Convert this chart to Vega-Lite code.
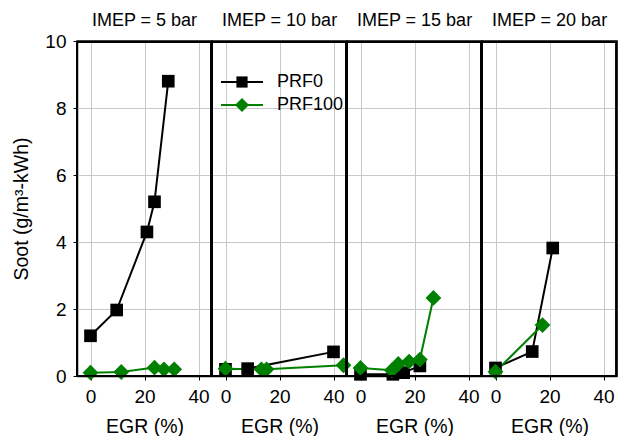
{
  "$schema": "https://vega.github.io/schema/vega-lite/v6.json",
  "padding": {"left": 11, "top": 12, "right": 2, "bottom": 0},
  "data": {"values": [
    {"imep": "IMEP = 5 bar", "series": "PRF0", "egr": 0, "soot": 1.2},
    {"imep": "IMEP = 5 bar", "series": "PRF0", "egr": 9.7, "soot": 1.97},
    {"imep": "IMEP = 5 bar", "series": "PRF0", "egr": 20.9, "soot": 4.3},
    {"imep": "IMEP = 5 bar", "series": "PRF0", "egr": 23.7, "soot": 5.2},
    {"imep": "IMEP = 5 bar", "series": "PRF0", "egr": 28.8, "soot": 8.8},
    {"imep": "IMEP = 5 bar", "series": "PRF100", "egr": 0, "soot": 0.1},
    {"imep": "IMEP = 5 bar", "series": "PRF100", "egr": 11.4, "soot": 0.12},
    {"imep": "IMEP = 5 bar", "series": "PRF100", "egr": 23.7, "soot": 0.25},
    {"imep": "IMEP = 5 bar", "series": "PRF100", "egr": 27.2, "soot": 0.2},
    {"imep": "IMEP = 5 bar", "series": "PRF100", "egr": 31, "soot": 0.2},
    {"imep": "IMEP = 10 bar", "series": "PRF0", "egr": 0, "soot": 0.2},
    {"imep": "IMEP = 10 bar", "series": "PRF0", "egr": 8.2, "soot": 0.22},
    {"imep": "IMEP = 10 bar", "series": "PRF0", "egr": 40, "soot": 0.72},
    {"imep": "IMEP = 10 bar", "series": "PRF100", "egr": 0, "soot": 0.22},
    {"imep": "IMEP = 10 bar", "series": "PRF100", "egr": 13.3, "soot": 0.2},
    {"imep": "IMEP = 10 bar", "series": "PRF100", "egr": 15.2, "soot": 0.2},
    {"imep": "IMEP = 10 bar", "series": "PRF100", "egr": 43.7, "soot": 0.32},
    {"imep": "IMEP = 15 bar", "series": "PRF0", "egr": 0, "soot": 0.05},
    {"imep": "IMEP = 15 bar", "series": "PRF0", "egr": 12, "soot": 0.05},
    {"imep": "IMEP = 15 bar", "series": "PRF0", "egr": 16, "soot": 0.1},
    {"imep": "IMEP = 15 bar", "series": "PRF0", "egr": 22, "soot": 0.3},
    {"imep": "IMEP = 15 bar", "series": "PRF100", "egr": 0, "soot": 0.24},
    {"imep": "IMEP = 15 bar", "series": "PRF100", "egr": 11.6, "soot": 0.17},
    {"imep": "IMEP = 15 bar", "series": "PRF100", "egr": 14, "soot": 0.36},
    {"imep": "IMEP = 15 bar", "series": "PRF100", "egr": 18, "soot": 0.43},
    {"imep": "IMEP = 15 bar", "series": "PRF100", "egr": 22, "soot": 0.49},
    {"imep": "IMEP = 15 bar", "series": "PRF100", "egr": 27, "soot": 2.33},
    {"imep": "IMEP = 20 bar", "series": "PRF0", "egr": 0, "soot": 0.24},
    {"imep": "IMEP = 20 bar", "series": "PRF0", "egr": 13.6, "soot": 0.73},
    {"imep": "IMEP = 20 bar", "series": "PRF0", "egr": 21.2, "soot": 3.82},
    {"imep": "IMEP = 20 bar", "series": "PRF100", "egr": 0, "soot": 0.13},
    {"imep": "IMEP = 20 bar", "series": "PRF100", "egr": 17.4, "soot": 1.52}
  ]},
  "facet": {
    "column": {
      "field": "imep", "type": "nominal", "sort": ["IMEP = 5 bar", "IMEP = 10 bar", "IMEP = 15 bar", "IMEP = 20 bar"],
      "header": {"labelFontSize": 18, "labelFont": "Liberation Sans", "labelColor": "black", "labelPadding": 11, "title": null}
    }
  },
  "spacing": 0,
  "bounds": "flush",
  "spec": {
    "width": 135,
    "height": 335,
    "layer": [
      {
        "mark": {"type": "line", "strokeWidth": 2},
        "encoding": {
          "x": {"field": "egr", "type": "quantitative", "scale": {"domain": [-5, 45], "nice": false, "zero": false}, "title": "EGR (%)",
            "axis": {"values": [0, 10, 20, 30, 40], "labelExpr": "datum.value % 20 == 0 ? datum.label : ''",
              "gridOpacity": {"condition": {"test": "datum.value % 20 == 0", "value": 1}, "value": 0},
              "tickSize": {"condition": {"test": "datum.value % 20 == 0", "value": 4}, "value": 2}}},
          "y": {"field": "soot", "type": "quantitative", "scale": {"domain": [0, 10], "nice": false}, "title": "Soot (g/m³-kWh)",
            "axis": {"values": [0, 1, 2, 3, 4, 5, 6, 7, 8, 9, 10], "labelExpr": "datum.value % 2 == 0 ? datum.label : ''",
              "gridOpacity": {"condition": {"test": "datum.value % 2 == 0 && datum.value > 0 && datum.value < 10", "value": 1}, "value": 0},
              "tickSize": {"condition": {"test": "datum.value % 2 == 0", "value": 4}, "value": 2}}},
          "stroke": {"field": "series", "type": "nominal", "scale": {"range": ["#000000", "#008000"]},
            "legend": {"title": null, "orient": "none", "legendX": 156, "legendY": 32, "symbolType": "M-3,0H3", "symbolSize": 196, "symbolStrokeWidth": 2, "labelFontSize": 18, "labelFont": "Liberation Sans", "labelColor": "black", "labelOffset": 26, "rowPadding": 5, "padding": 0}}
        }
      },
      {
        "mark": {"type": "point", "filled": true, "size": 250, "opacity": 1, "strokeWidth": 0},
        "encoding": {
          "x": {"field": "egr", "type": "quantitative"},
          "y": {"field": "soot", "type": "quantitative"},
          "fill": {"field": "series", "type": "nominal", "scale": {"domain": ["PRF0", "PRF100"], "range": ["#000000", "#008000"]},
            "legend": {"title": null, "orient": "none", "legendX": 156, "legendY": 32, "symbolSize": 196, "symbolStrokeWidth": 0, "symbolOpacity": 1, "labelFontSize": 18, "labelFont": "Liberation Sans", "labelColor": "transparent", "labelOffset": 26, "rowPadding": 5, "padding": 0}},
          "shape": {"field": "series", "type": "nominal", "scale": {"domain": ["PRF0", "PRF100"], "range": ["M-0.8,-0.8H0.8V0.8H-0.8Z", "diamond"]}}
        }
      },
      {
        "mark": {"type": "rect", "fill": null, "fillOpacity": 0, "stroke": "black", "strokeWidth": 1.5},
        "encoding": {
          "x": {"datum": -5, "type": "quantitative"},
          "x2": {"datum": 44.75},
          "y": {"datum": 0, "type": "quantitative"},
          "y2": {"datum": 9.97}
        }
      }
    ]
  },
  "config": {
    "view": {"stroke": "black", "strokeWidth": 1.5},
    "font": "Liberation Sans",
    "axis": {"labelFont": "Liberation Sans", "labelFontSize": 19, "labelColor": "black", "titleFont": "Liberation Sans", "titleFontSize": 19.5, "titleFontWeight": "normal", "titleColor": "black", "gridColor": "#c8c8c8", "gridWidth": 1, "domainColor": "black", "domainWidth": 1.5, "tickColor": "black", "tickWidth": 1},
    "axisX": {"labelPadding": 7, "titlePadding": 11, "labelFlush": false},
    "axisY": {"labelPadding": 7, "titlePadding": 13}
  }
}
